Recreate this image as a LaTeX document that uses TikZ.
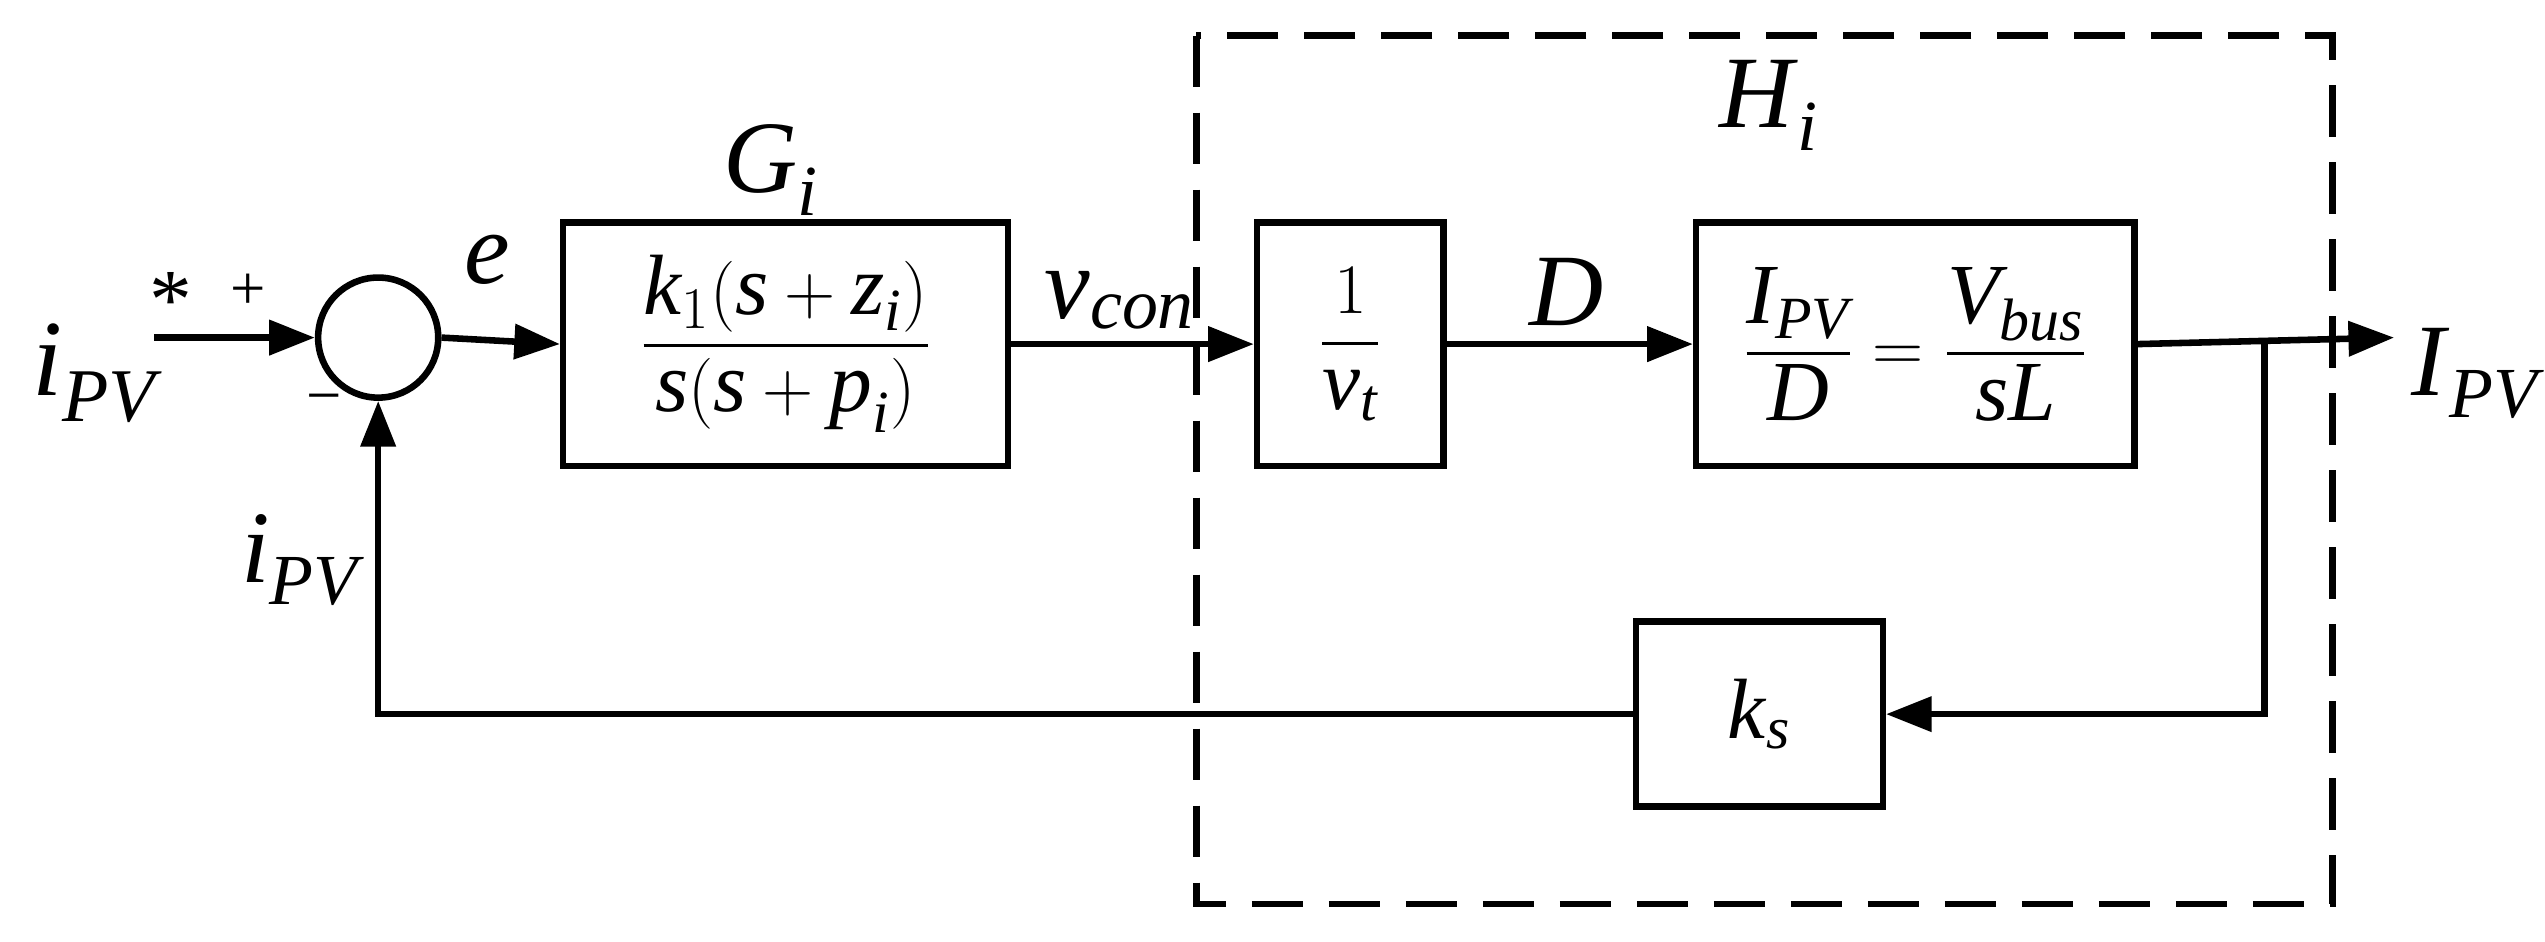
\documentclass[tikz,border=0pt]{standalone}
\usepackage{amsmath}
\usepackage{fontspec}
\setmainfont{Liberation Serif}
\usetikzlibrary{arrows.meta}
\newcommand{\ti}[1]{\textit{#1}}
\begin{document}
\begin{tikzpicture}[x=0.02cm,y=-0.02cm,
  ln/.style={line width=2.3pt},
  ar/.style={ln,-{Triangle[length=16pt,width=12pt]}},
  blk/.style={draw,line width=2.3pt,inner sep=0pt},
  lab/.style={font=\fontsize{30}{34}\selectfont}]
\useasboundingbox (0,0) rectangle (1568,580);
\draw[line width=2.3pt,dash pattern=on 18pt off 9pt] (737,22) rectangle (1437,557);
\node[draw,circle,line width=2.3pt,minimum size=74*0.02cm,inner sep=0pt] (s) at (233,208) {};
\node[blk,minimum width=274*0.02cm,minimum height=150*0.02cm] (g) at (484,212) {};
\node[lab] at (g) {$\dfrac{\ti{k}_1(\ti{s}+\ti{z}_{\ti{i}})}{\ti{s}(\ti{s}+\ti{p}_{\ti{i}})}$};
\node[blk,minimum width=115*0.02cm,minimum height=150*0.02cm] (v) at (832,212) {};
\node[lab] at (v) {$\dfrac{1}{\ti{v}_{\ti{t}}}$};
\node[blk,minimum width=270*0.02cm,minimum height=150*0.02cm] (h) at (1180,212) {};
\node[lab] at (h) {$\dfrac{\ti{I}_{\ti{PV}}}{\ti{D}}=\dfrac{\ti{V}_{\ti{bus}}}{\ti{sL}}$};
\node[blk,minimum width=152*0.02cm,minimum height=114*0.02cm] (k) at (1084,440) {};
\node[lab] at (k) {\ti{k}$_{\ti{s}}$};
\coordinate (in) at (95,208);
\coordinate (out) at (1475,208);
\coordinate (br) at (1395,208);
\coordinate (br2) at (1395,440);
\coordinate (c) at (233,440);
\draw[ar] (in) -- (s.west);
\draw[ar] (s.east) -- (g.west);
\draw[ar] (g.east) -- (v.west);
\draw[ar] (v.east) -- (h.west);
\draw[ar] (h.east) -- (out);
\draw[ar] (br) -- (br2) -- (k.east);
\draw[ar] (k.west) -- (c) -- (s.south);
\node[lab,font=\fontsize{38}{40}\selectfont] at (58,230) {\ti{i}$_{\ti{PV}}$};
\node[lab] at (105,185) {*};
\node[font=\fontsize{22}{24}\selectfont] at (153,180) {+};
\node[font=\fontsize{22}{24}\selectfont] at (200,250) {−};
\node[lab,font=\fontsize{36}{40}\selectfont] at (300,160) {\ti{e}};
\node[lab,font=\fontsize{36}{40}\selectfont] at (475,105) {\ti{G}$_{\ti{i}}$};
\node[lab,font=\fontsize{36}{40}\selectfont] at (690,185) {\ti{v}$_{\ti{con}}$};
\node[lab,font=\fontsize{36}{40}\selectfont] at (965,180) {\ti{D}};
\node[lab,font=\fontsize{36}{40}\selectfont] at (1090,65) {\ti{H}$_{\ti{i}}$};
\node[lab,font=\fontsize{36}{40}\selectfont] at (1525,230) {\ti{I}$_{\ti{PV}}$};
\node[lab,font=\fontsize{36}{40}\selectfont] at (185,345) {\ti{i}$_{\ti{PV}}$};
\end{tikzpicture}
\end{document}
